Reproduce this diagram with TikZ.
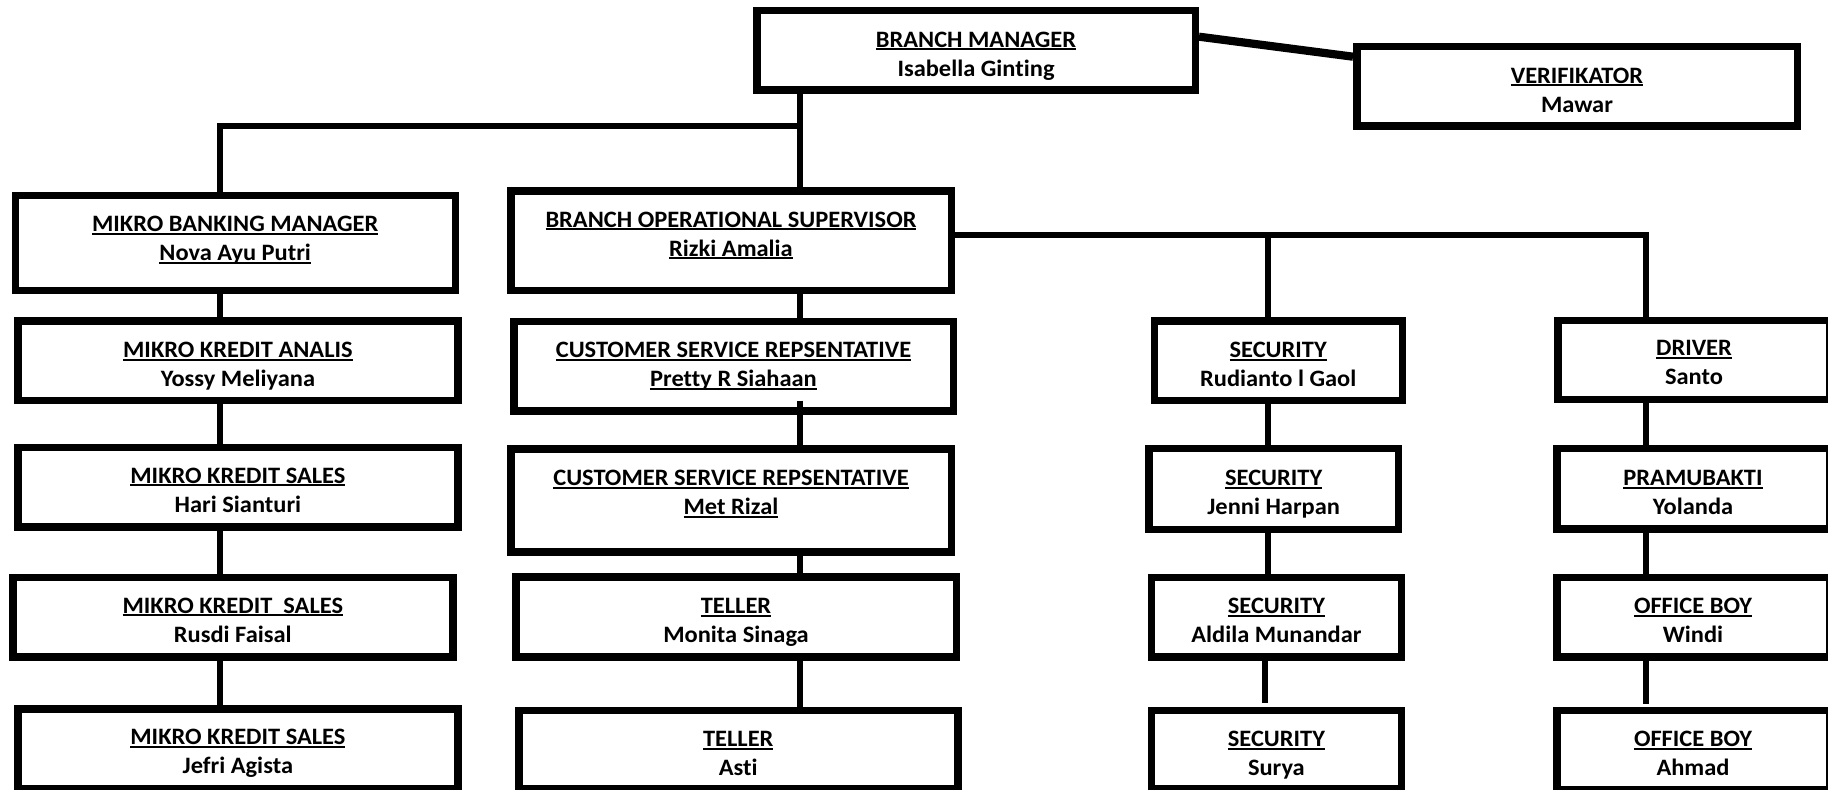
\documentclass[tikz,border=0pt]{standalone}
\usepackage{fontspec}
\setmainfont{Carlito}[Ligatures={NoCommon}, FakeStretch=1.04]
\usetikzlibrary{calc}
\newcommand\uln[1]{\leavevmode\setbox0\hbox{#1}\rlap{\rule[-1.5pt]{\wd0}{0.85pt}}\box0}
\newcommand\mkbox[5]{%
  \pgfmathsetmacro\bw{(#4-#2-7.5)*0.5}%
  \pgfmathsetmacro\bh{(#5-#3-7.5)*0.5}%
  \node[box, minimum width=\bw pt, minimum height=\bh pt] (#1) at ({(#2+#4)/2},{(#3+#5)/2}) {};}
\tikzset{
  box/.style={draw=black, line width=3.75pt, fill=white, inner sep=0pt},
  lbl/.style={align=center, inner sep=0pt, anchor=north, text=black, yshift=0.5pt,
              font=\fontsize{11.75}{14.5}\selectfont\bfseries},
  conn/.style={draw=black, line width=3pt},
}
\begin{document}
\begin{tikzpicture}[x=0.5pt, y=-0.5pt]
\useasboundingbox[fill=white] (0,0) rectangle (1828,790);
% boxes
\mkbox{bm}{753}{7}{1199}{94}
\mkbox{ver}{1353}{43}{1801}{130}
\mkbox{mbm}{11.5}{191.7}{459}{294.3}
\mkbox{bos}{507}{187.3}{955}{294.3}
\mkbox{mka}{14}{317.3}{461.7}{404.3}
\mkbox{mks1}{14}{444}{461.7}{530.7}
\mkbox{mks2}{9}{574}{456.6}{660.7}
\mkbox{mks3}{14}{705.3}{461.7}{793}
\mkbox{csr1}{510}{318}{957}{415}
\mkbox{csr2}{507}{445.3}{955}{555.7}
\mkbox{tl1}{512}{573.3}{960}{660.7}
\mkbox{tl2}{515}{706.7}{961.7}{793}
\mkbox{sec1}{1150.5}{317.3}{1406}{404.3}
\mkbox{sec2}{1145}{445}{1402.3}{533.3}
\mkbox{sec3}{1147.8}{574}{1405}{660.7}
\mkbox{sec4}{1147.8}{706.7}{1405}{793}
\mkbox{drv}{1554}{316.7}{1833}{403.3}
\mkbox{prm}{1553}{445}{1833}{533}
\mkbox{ob1}{1553}{574}{1833}{660.7}
\mkbox{ob2}{1553}{706.7}{1833}{794}
% texts
\node[lbl] (bmt) at (976,32.3) {\uln{BRANCH MANAGER}\\Isabella Ginting};
\node[lbl] (vert) at (1577,68.3) {\uln{VERIFIKATOR}\\Mawar};
\node[lbl] (mbmt) at (235.2,216.7) {\uln{MIKRO BANKING MANAGER}\\\uln{Nova Ayu Putri}};
\node[lbl] (bost) at (731,212.3) {\uln{BRANCH OPERATIONAL SUPERVISOR}\\\uln{Rizki Amalia}};
\node[lbl] (mkat) at (237.9,342.7) {\uln{MIKRO KREDIT ANALIS}\\Yossy Meliyana};
\node[lbl] (mks1t) at (237.9,468.3) {\uln{MIKRO KREDIT SALES}\\Hari Sianturi};
\node[lbl] (mks2t) at (232.8,598.3) {\uln{MIKRO KREDIT~ SALES}\\Rusdi Faisal};
\node[lbl] (mks3t) at (237.9,730) {\uln{MIKRO KREDIT SALES}\\Jefri Agista};
\node[lbl] (csr1t) at (733.5,342.7) {\uln{CUSTOMER SERVICE REPSENTATIVE}\\\uln{Pretty R Siahaan}};
\node[lbl] (csr2t) at (731,471) {\uln{CUSTOMER SERVICE REPSENTATIVE}\\\uln{Met Rizal}};
\node[lbl] (tl1t) at (736,599) {\uln{TELLER}\\Monita Sinaga};
\node[lbl] (tl2t) at (738.3,732.3) {\uln{TELLER}\\Asti};
\node[lbl] (sec1t) at (1278.2,342.7) {\uln{SECURITY}\\Rudianto l Gaol};
\node[lbl] (sec2t) at (1273.7,471) {\uln{SECURITY}\\Jenni Harpan};
\node[lbl] (sec3t) at (1276.4,599) {\uln{SECURITY}\\Aldila Munandar};
\node[lbl] (sec4t) at (1276.4,731.7) {\uln{SECURITY}\\Surya};
\node[lbl] (drvt) at (1694,341) {\uln{DRIVER}\\Santo};
\node[lbl] (prmt) at (1693,471) {\uln{PRAMUBAKTI}\\Yolanda};
\node[lbl] (ob1t) at (1693,599) {\uln{OFFICE BOY}\\Windi};
\node[lbl] (ob2t) at (1693,731.7) {\uln{OFFICE BOY}\\Ahmad};
% guide coordinates
\coordinate (xL) at (219.5,0);
\coordinate (xM) at (799.5,0);
\coordinate (xS) at (1268,0);
\coordinate (xS2) at (1264.7,0);
\coordinate (xD) at (1645.8,0);
\coordinate (hy) at (0,126);
\coordinate (ry) at (0,235);
\coordinate (ryt) at (0,232);
\coordinate (v1) at (0,36.7);
\coordinate (v2) at (0,56.7);
% connectors
\draw[line width=4.1pt] (bm.east |- v1) -- (ver.west |- v2);
\draw[conn] (bm.south -| xM) -- (bos.north -| xM);
\draw[conn] (mbm.north -| xL) |- (hy -| xM);
\draw[conn] (bos.east |- ry) -- (ry -| xD);
\draw[conn] (ryt -| xS) -- (sec1.north -| xS);
\draw[conn] (ryt -| xD) -- (drv.north -| xD);
\draw[conn] (mbm.south -| xL) -- (mka.north -| xL);
\draw[conn] (mka.south -| xL) -- (mks1.north -| xL);
\draw[conn] (mks1.south -| xL) -- (mks2.north -| xL);
\draw[conn] (mks2.south -| xL) -- (mks3.north -| xL);
\draw[conn] (bos.south -| xM) -- (csr1.north -| xM);
\draw[conn] ($(csr1.south -| xM)+(0,-14.3)$) -- (csr2.north -| xM);
\draw[conn] (csr2.south -| xM) -- (tl1.north -| xM);
\draw[conn] (tl1.south -| xM) -- (tl2.north -| xM);
\draw[conn] (sec1.south -| xS) -- (sec2.north -| xS);
\draw[conn] (sec2.south -| xS) -- (sec3.north -| xS);
\draw[conn] (sec3.south -| xS2) -- ($(sec4.north -| xS2)+(0,-4)$);
\draw[conn] (drv.south -| xD) -- (prm.north -| xD);
\draw[conn] (prm.south -| xD) -- (ob1.north -| xD);
\draw[conn] (ob1.south -| xD) -- ($(ob2.north -| xD)+(0,-2.4)$);
\end{tikzpicture}
\end{document}
